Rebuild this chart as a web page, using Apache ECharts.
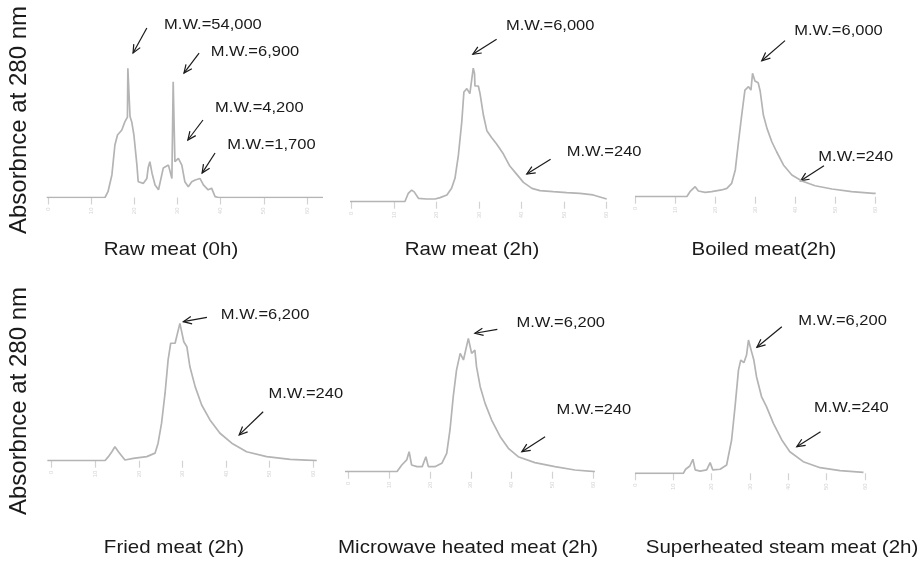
<!DOCTYPE html>
<html>
<head>
<meta charset="utf-8">
<script src="https://cdn.jsdelivr.net/npm/echarts@6/dist/echarts.min.js"></script>
<style>
  html, body { margin: 0; padding: 0; background: #ffffff; }
  #chart { width: 922px; height: 561px; }
</style>
</head>
<body>
<div id="chart"></div>
<script>
// Elution profiles: [retention time, absorbance (relative)]
const rawMeat0h = [
  [-0.3, 0], [13.2, 0], [13.9, 4.3], [14.8, 16.7], [15.5, 38.9], [16.1, 46.3], [17.1, 50],
  [17.8, 56], [18.4, 59.6], [18.5, 95.7], [18.8, 95], [19.0, 60], [19.4, 56], [19.9, 46.3],
  [20.6, 24], [20.9, 11.7], [22.1, 10.5], [22.9, 14.1], [23.2, 22], [23.6, 26.5], [24.1, 18],
  [24.8, 9.3], [25.6, 5.7], [26.7, 21.8], [27.9, 24], [28.7, 14.1], [29.0, 85.8], [29.3, 85.5],
  [29.4, 26.5], [30.2, 29], [31.0, 24], [31.7, 11.7], [32.5, 8], [33.3, 11.7], [34.1, 13],
  [35.2, 14.1], [36.0, 9.3], [37.1, 5.7], [37.9, 6.9], [38.7, 0.6], [39.5, 0], [63.7, 0]
];
const rawMeat2h = [
  [-0.4, 0], [12.5, 0], [13.3, 6.1], [14.1, 8.6], [14.7, 7.3], [15.7, 2.5], [17.6, 2],
  [19.6, 2], [20.8, 3], [22.4, 5], [23.5, 9.9], [24.3, 17.3], [25.1, 34.4], [25.9, 59.1],
  [26.4, 81.3], [27.1, 83.8], [27.8, 80.1], [28.6, 98.9], [28.9, 95], [29.0, 85.7], [29.8, 85.7],
  [30.2, 80.1], [31.0, 64], [31.8, 52.6], [32.9, 47.6], [34.1, 42.7], [35.7, 35.3], [37.2, 26.4],
  [38.8, 20.4], [40.4, 14.3], [42.4, 9.9], [44.3, 8.2], [47.4, 7.4], [50.6, 6.7], [53.7, 6.2],
  [56.8, 5], [60.0, 2]
];
const boiledMeat2h = [
  [0, 0], [12.9, 0], [13.7, 3.7], [15.0, 7.4], [15.8, 4.2], [17.5, 3.2], [19.1, 3.7],
  [21.6, 5], [22.9, 6.2], [24.1, 9.9], [25.0, 19.8], [25.8, 40.7], [26.6, 60.5], [27.4, 79],
  [28.3, 81.5], [28.9, 79], [29.3, 91.4], [29.5, 90], [29.9, 85.7], [30.7, 84.4], [31.2, 78.3],
  [32.0, 60.5], [32.9, 50.6], [34.1, 40.7], [35.3, 33.3], [37.0, 23.5], [39.1, 16.1], [41.6, 11.6],
  [44.9, 8.1], [49.1, 5.7], [54.0, 3.7], [59.4, 2.5], [60.0, 2.4]
];
const friedMeat2h = [
  [-1.0, 0], [12.2, 0], [13.0, 2.9], [13.8, 6.4], [14.5, 10], [15.3, 6.4], [16.8, 0.5],
  [18.7, 1.7], [21.8, 2.9], [23.7, 5.4], [24.4, 12.5], [25.2, 26.8], [26.0, 48.2], [26.7, 72],
  [27.3, 83.9], [28.3, 83.9], [29.4, 98.1], [29.7, 98], [30.3, 85], [31.0, 81.4], [31.7, 67.1],
  [32.9, 52.9], [34.4, 39.8], [36.3, 29.1], [38.6, 19.6], [41.3, 12.5], [44.7, 6.4], [49.3, 2.9],
  [54.7, 1], [60.8, 0]
];
const microwaveMeat2h = [
  [-0.8, 0], [11.9, 0], [13.1, 4.8], [14.3, 8.4], [14.9, 14.3], [15.5, 4.8], [16.8, 3.6],
  [18.1, 3.6], [19.0, 10.7], [19.6, 3.6], [21.2, 3.6], [22.9, 6], [24.1, 13.1], [24.9, 29.8],
  [25.7, 53.6], [26.5, 72.6], [27.4, 84.5], [28.2, 79.8], [29.4, 95.2], [30.2, 84.5], [31.0, 86.9],
  [31.4, 75], [32.3, 60.7], [33.5, 48.8], [35.1, 36.9], [37.2, 25], [39.2, 16.7], [41.6, 10.7],
  [45.7, 6.5], [50.6, 3.6], [55.5, 1.2], [60.4, 0]
];
const superheatedMeat2h = [
  [0, 0], [12.6, 0], [13.2, 2.9], [14.3, 5.2], [15.1, 10], [15.7, 2.4], [17.0, 1.6],
  [18.7, 2.4], [19.6, 7.6], [20.3, 2.4], [22.2, 2.9], [23.9, 5.9], [25.2, 23.8], [26.1, 47.6],
  [27.0, 73.9], [27.6, 80.9], [28.4, 79], [29.1, 84.5], [29.6, 95.2], [30.4, 86.9], [31.0, 80.9],
  [31.7, 69], [33.0, 54.8], [34.3, 47.6], [36.1, 35.7], [38.3, 23.8], [40.4, 15.4], [43.9, 8.3],
  [48.3, 4], [53.5, 1.9], [59.6, 0.7]
];

const panelCaptions = [
  'Raw meat (0h)', 'Raw meat (2h)', 'Boiled meat(2h)',
  'Fried meat (2h)', 'Microwave heated meat (2h)', 'Superheated steam meat (2h)'
];
const tickValues = [0, 10, 20, 30, 40, 50, 60];
const yTitle = 'Absorbnce at 280 nm';

// Molecular-weight callouts: [arrow tail x, tail y, arrow tip x, tip y, text x, text y]
const calloutsRaw0h = [[22.9, 125.6, 19.7, 107, 26.9, 127.8], [35.0, 107, 31.5, 92.2, 37.7, 108],
                       [35.9, 57.4, 32.4, 42.6, 38.7, 66.1], [38.7, 33, 35.7, 18.1, 41.5, 38.9]];
const calloutTextsRaw0h = ['M.W.=54,000', 'M.W.=6,900', 'M.W.=4,200', 'M.W.=1,700'];
const calloutsRaw2h = [[34.1, 120.3, 28.5, 109.2, 36.3, 130.1], [46.8, 31.4, 41.2, 20.5, 50.6, 37]];
const calloutTextsRaw2h = ['M.W.=6,000', 'M.W.=240'];
const calloutsBoiled = [[37.4, 115.6, 31.6, 100.7, 39.7, 123], [47.1, 23, 41.3, 11.9, 45.7, 29.6]];
const calloutTextsBoiled = ['M.W.=6,000', 'M.W.=240'];
const calloutsFried = [[35.6, 102.4, 30.2, 99.3, 38.8, 104.1], [48.5, 35, 43.0, 18.4, 49.7, 48.1]];
const calloutTextsFried = ['M.W.=6,200', 'M.W.=240'];
const calloutsMicrowave = [[36.5, 101.7, 31.0, 98.9, 41.2, 106], [48.2, 25, 42.5, 14.3, 51.0, 44.1]];
const calloutTextsMicrowave = ['M.W.=6,200', 'M.W.=240'];
const calloutsSteam = [[38.3, 104.7, 31.8, 90, 42.6, 109], [48.4, 29.7, 42.2, 19, 46.7, 46.4]];
const calloutTextsSteam = ['M.W.=6,200', 'M.W.=240'];

const profiles = [rawMeat0h, rawMeat2h, boiledMeat2h, friedMeat2h, microwaveMeat2h, superheatedMeat2h];
const callouts = [calloutsRaw0h, calloutsRaw2h, calloutsBoiled, calloutsFried, calloutsMicrowave, calloutsSteam];
const calloutTexts = [calloutTextsRaw0h, calloutTextsRaw2h, calloutTextsBoiled,
                      calloutTextsFried, calloutTextsMicrowave, calloutTextsSteam];

// Panel geometry (pixels): first tick, last tick, baseline, px per absorbance unit
const layout = [
  { t0: 48,    t6: 307,   base: 197.5, k: 1.35, capX: 171, capY: 250 },
  { t0: 351.7, t6: 606.7, base: 201.7, k: 1.35, capX: 472, capY: 250 },
  { t0: 635,   t6: 875.7, base: 196.7, k: 1.35, capX: 764, capY: 250 },
  { t0: 51.7,  t6: 313.3, base: 460.7, k: 1.40, capX: 174, capY: 548 },
  { t0: 348.3, t6: 593.3, base: 471.7, k: 1.40, capX: 468, capY: 548 },
  { t0: 635,   t6: 865,   base: 473.3, k: 1.40, capX: 782, capY: 548 }
];
const X_MIN = -1.2, X_MAX = 64;
const H = 561;
const FONT = '"Liberation Sans", Arial, sans-serif';

const grids = [], xAxes = [], yAxes = [], series = [], graphics = [];

layout.forEach((p, i) => {
  const ppu = (p.t6 - p.t0) / 60;
  grids.push({
    left: p.t0 + X_MIN * ppu,
    width: (X_MAX - X_MIN) * ppu,
    bottom: H - p.base,
    height: 100 * p.k,
    containLabel: false
  });
  xAxes.push({
    type: 'value', gridIndex: i, min: X_MIN, max: X_MAX,
    axisLine: { show: false },
    splitLine: { show: false },
    axisTick: { show: true, customValues: tickValues, length: 7, lineStyle: { color: '#d2d2d2', width: 1.2 } },
    axisLabel: { show: true, customValues: tickValues, color: '#d4d4d4', fontSize: 6, rotate: 90, margin: 10,
                 fontFamily: FONT }
  });
  yAxes.push({ type: 'value', gridIndex: i, min: 0, max: 100, show: false });

  series.push({
    type: 'line', xAxisIndex: i, yAxisIndex: i,
    data: profiles[i], showSymbol: false, symbol: 'none', smooth: false,
    lineStyle: { color: '#b4b4b4', width: 1.7 },
    silent: true, animation: false
  });

  const texts = calloutTexts[i];
  series.push({
    type: 'custom', xAxisIndex: i, yAxisIndex: i,
    data: callouts[i], clip: false, silent: true, animation: false,
    renderItem: function (params, api) {
      const a = api.coord([api.value(0), api.value(1)]);
      const b = api.coord([api.value(2), api.value(3)]);
      const t = api.coord([api.value(4), api.value(5)]);
      const ang = Math.atan2(a[1] - b[1], a[0] - b[0]);
      const h = 9, spread = 0.42;
      const p1 = [b[0] + h * Math.cos(ang + spread), b[1] + h * Math.sin(ang + spread)];
      const p2 = [b[0] + h * Math.cos(ang - spread), b[1] + h * Math.sin(ang - spread)];
      return {
        type: 'group',
        children: [
          { type: 'line', shape: { x1: a[0], y1: a[1], x2: b[0], y2: b[1] },
            style: { stroke: '#1a1a1a', lineWidth: 1.2 } },
          { type: 'polyline', shape: { points: [p1, b, p2] },
            style: { stroke: '#1a1a1a', lineWidth: 1.2, fill: null } },
          { type: 'text', x: t[0], y: t[1], scaleX: 1.1,
            style: { text: texts[params.dataIndex], fill: '#1a1a1a', font: '15px ' + FONT,
                     textAlign: 'left', textVerticalAlign: 'middle' } }
        ]
      };
    }
  });

  graphics.push({
    type: 'text', x: p.capX, y: p.capY, scaleX: 1.08, silent: true,
    style: { text: panelCaptions[i], fill: '#1a1a1a', font: '19px ' + FONT,
             textAlign: 'center', textVerticalAlign: 'middle' }
  });
});

// Vertical axis titles for both rows
[120, 401].forEach(cy => {
  graphics.push({
    type: 'text', x: 19, y: cy, rotation: Math.PI / 2, silent: true,
    style: { text: yTitle, fill: '#1a1a1a', font: '24px ' + FONT,
             textAlign: 'center', textVerticalAlign: 'middle' }
  });
});

const chart = echarts.init(document.getElementById('chart'), null, { renderer: 'canvas' });
chart.setOption({
  backgroundColor: '#ffffff',
  animation: false,
  grid: grids,
  xAxis: xAxes,
  yAxis: yAxes,
  series: series,
  graphic: graphics
});
</script>
</body>
</html>
